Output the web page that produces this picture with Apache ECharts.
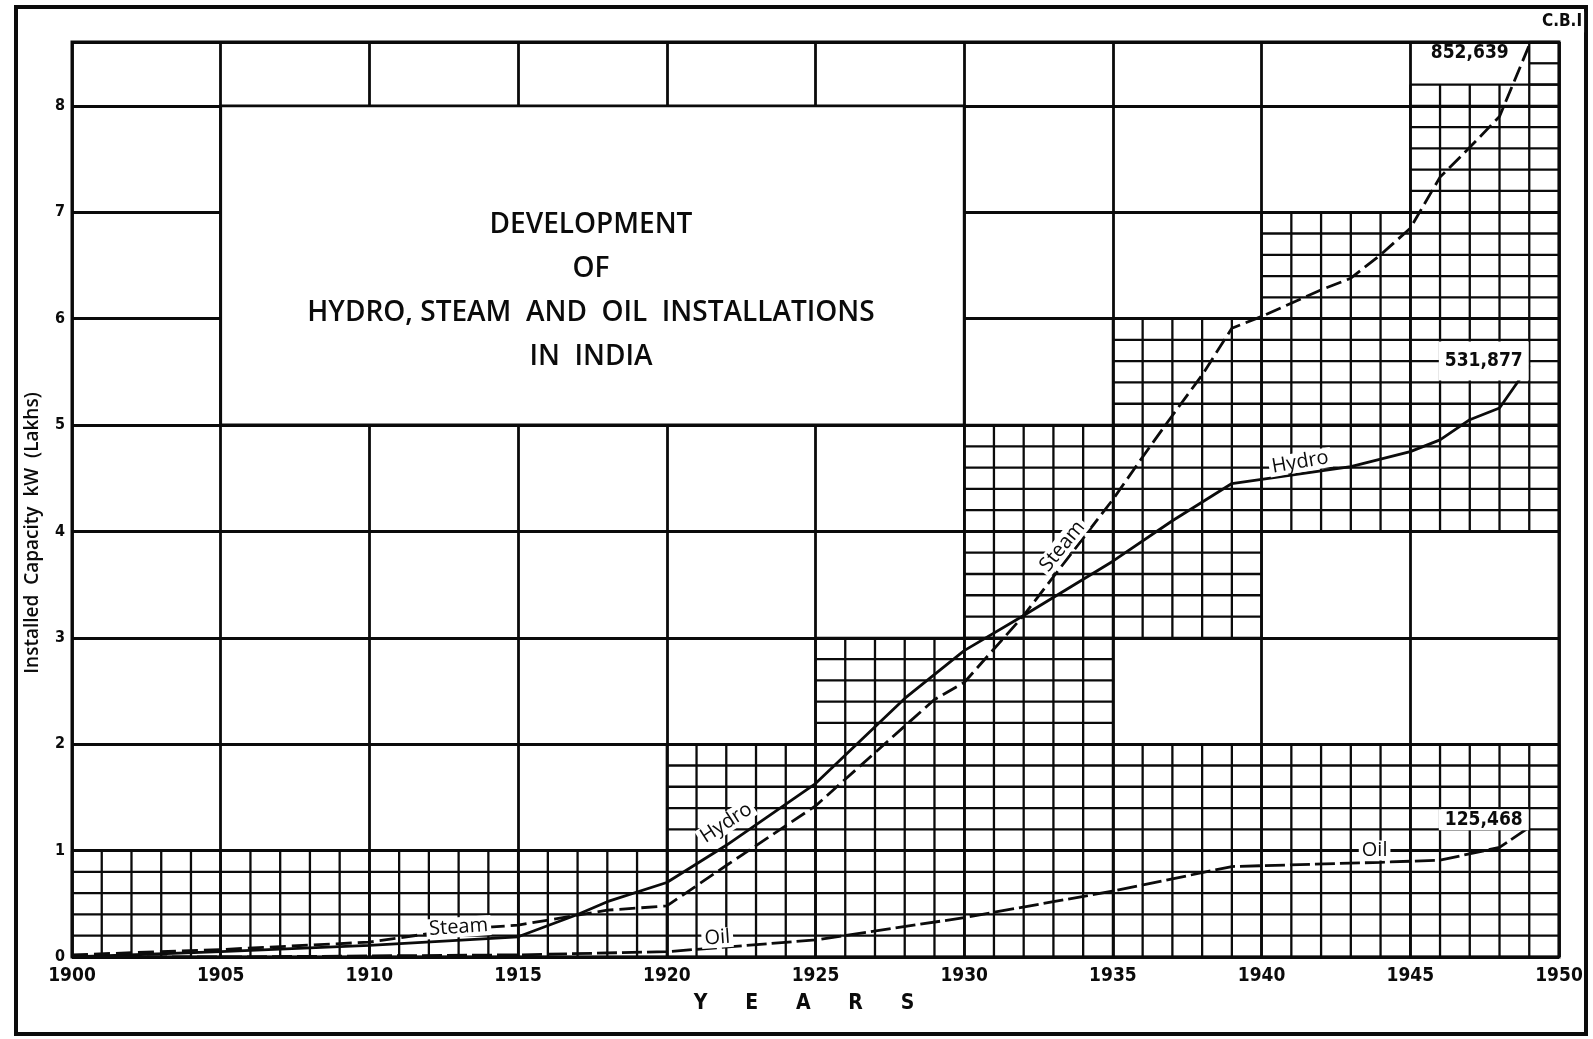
<!DOCTYPE html>
<html>
<head>
<meta charset="utf-8">
<title>Development of Hydro, Steam and Oil Installations in India</title>
<script src="https://cdn.jsdelivr.net/npm/echarts@6/dist/echarts.min.js"></script>
<style>
html, body { margin: 0; padding: 0; background: #fff; }
#main { width: 1593px; height: 1039px; }
</style>
</head>
<body>
<div id="main"></div>
<script>
// installed capacity in lakhs of kW
var hydro = [
	[1900, 0.00], [1905, 0.05], [1910, 0.11], [1915, 0.19], [1917, 0.40], [1918, 0.52],
	[1920, 0.70], [1922, 1.05], [1925, 1.63], [1928, 2.43], [1930, 2.88], [1932, 3.21],
	[1935, 3.72], [1937, 4.10], [1939, 4.45], [1941, 4.53], [1943, 4.61], [1945, 4.75],
	[1946, 4.86], [1947, 5.05], [1948, 5.16], [1949, 5.56]
];
var steam = [
	[1900, 0.02], [1905, 0.07], [1910, 0.14], [1913, 0.26], [1915, 0.30], [1918, 0.44],
	[1920, 0.48], [1922, 0.86], [1925, 1.42], [1929, 2.42], [1930, 2.58], [1932, 3.21],
	[1935, 4.30], [1936, 4.70], [1937, 5.09], [1938, 5.47], [1939, 5.91], [1940, 6.02],
	[1942, 6.27], [1943, 6.38], [1944, 6.60], [1945, 6.85], [1946, 7.33], [1947, 7.61],
	[1948, 7.90], [1949, 8.57]
];
var oil = [
	[1900, 0.00], [1905, 0.00], [1910, 0.01], [1915, 0.02], [1920, 0.05], [1925, 0.16],
	[1930, 0.37], [1935, 0.62], [1939, 0.85], [1944, 0.89], [1946, 0.91], [1948, 1.03],
	[1949, 1.22]
];
// capacity (kW) written at the end of each curve
var endNames = ['Steam', 'Hydro', 'Oil'];
var endKW = [852639, 531877, 125468];

var yearRange = [1900, 1950];
var lakhRange = [0, 8.6];

// parts of the paper ruled finely (1 year x 0.2 lakh): [fromYear, toYear, fromLakh, toLakh]
var fineBlocks = [
	[1900, 1950, 0, 1], [1920, 1950, 1, 2], [1925, 1935, 2, 3], [1930, 1940, 3, 4],
	[1930, 1950, 4, 5], [1935, 1950, 5, 6], [1940, 1950, 6, 7], [1945, 1950, 7, 8.2],
	[1949, 1950, 8.2, 8.6]
];

var INK = '#0b0b0b';
var NUMFONT = '"DejaVu Sans Condensed", "DejaVu Sans", sans-serif';
var TXTFONT = '"Open Sans", sans-serif';

function fmtKW(v)
{
	return v.toLocaleString('en-US');
}

function renderBlock(params, api)
{
	var x0 = api.value(0), x1 = api.value(1), y0 = api.value(2), y1 = api.value(3);
	var kids = [];
	var nx = Math.round(x1 - x0), ny = Math.round((y1 - y0) / 0.2);
	for (var i = 0; i <= nx; i++) {
		var a = api.coord([x0 + i, y0]), b = api.coord([x0 + i, y1]);
		kids.push({ type: 'line', shape: { x1: a[0], y1: a[1], x2: b[0], y2: b[1] },
			style: { stroke: INK, lineWidth: 2.3 } });
	}
	for (var j = 0; j <= ny; j++) {
		var v = y0 + j * 0.2;
		var c = api.coord([x0, v]), d = api.coord([x1, v]);
		kids.push({ type: 'line', shape: { x1: c[0], y1: c[1], x2: d[0], y2: d[1] },
			style: { stroke: INK, lineWidth: 2.3 } });
	}
	return { type: 'group', children: kids };
}

// white panel carrying the heading
function renderPanel(params, api)
{
	var p = api.coord([api.value(0), api.value(3)]);
	var q = api.coord([api.value(1), api.value(2)]);
	return { type: 'rect', shape: { x: p[0], y: p[1], width: q[0] - p[0], height: q[1] - p[1] },
		style: { fill: '#fff', stroke: INK, lineWidth: 2.8 } };
}

var notes = [
	{ name: 'Steam', value: [1913.0, 0.28, 4] },
	{ name: 'Oil', value: [1921.7, 0.18, 4] },
	{ name: 'Hydro', value: [1922.0, 1.26, 33] },
	{ name: 'Steam', value: [1933.3, 3.86, 51] },
	{ name: 'Hydro', value: [1941.3, 4.65, 10] },
	{ name: 'Oil', value: [1943.8, 1.00, 0] }
];

function renderNote(params, api)
{
	var p = api.coord([api.value(0), api.value(1)]);
	return { type: 'text', x: p[0], y: p[1], rotation: api.value(2) * Math.PI / 180,
		style: { text: notes[params.dataIndex].name, font: '500 20px ' + TXTFONT, fill: INK,
			align: 'center', verticalAlign: 'middle', backgroundColor: '#fff', padding: [0, 3] } };
}

// put the kW figure on the last point of a curve
function withEndLabel(points, idx, pos, boxed)
{
	var last = points.length - 1;
	return points.map(function (p, i) {
		if (i !== last) return p;
		return { value: p, label: {
			show: true, formatter: fmtKW(endKW[idx]), position: pos,
			align: 'center', verticalAlign: 'middle',
			fontFamily: NUMFONT, fontWeight: 'bold', fontSize: 19, color: INK,
			backgroundColor: boxed ? '#fff' : 'transparent', padding: boxed ? boxed : 0
		} };
	});
}

function lineSeries(name, points, dash, width, idx, pos, boxed)
{
	return {
		name: name, type: 'line', z: 4,
		data: withEndLabel(points, idx, pos, boxed),
		symbol: 'circle', symbolSize: 1, showSymbol: true,
		itemStyle: { color: INK },
		lineStyle: { color: INK, width: width, type: dash },
		smooth: false,
		silent: true
	};
}

var chart = echarts.init(document.getElementById('main'));

var option = {
	animation: false,
	backgroundColor: '#fff',
	grid: { left: 72, right: 34, top: 42, bottom: 82, show: true, borderColor: INK, borderWidth: 3 },
	xAxis: {
		type: 'value', min: yearRange[0], max: yearRange[1], interval: 5,
		axisLine: { show: false }, axisTick: { show: false },
		splitLine: { show: true, lineStyle: { color: INK, width: 2.8 } },
		axisLabel: {
			margin: 10, fontFamily: NUMFONT, fontWeight: 'bold', fontSize: 19, color: INK,
			formatter: function (v) { return String(v); }
		},
		name: 'Y\u2003\u2003E\u2003\u2003A\u2003\u2003R\u2003\u2003S',
		nameLocation: 'middle', nameGap: 36,
		nameTextStyle: { fontFamily: NUMFONT, fontWeight: 'bold', fontSize: 21, color: INK, padding: [0, 23, 0, 0] }
	},
	yAxis: {
		type: 'value', min: lakhRange[0], max: lakhRange[1], interval: 1,
		axisLine: { show: false }, axisTick: { show: false },
		splitLine: { show: true, lineStyle: { color: INK, width: 2.8 } },
		axisLabel: {
			margin: 7, fontFamily: NUMFONT, fontWeight: 'bold', fontSize: 16, color: INK,
			formatter: function (v) { return Number.isInteger(v) ? String(v) : ''; }
		}
	},
	graphic: [
		{ type: 'rect', z: 10, shape: { x: 16, y: 7, width: 1570, height: 1027 },
			style: { fill: 'none', stroke: INK, lineWidth: 4 } },
		{ type: 'text', z: 11, x: 1562, y: 22,
			style: { text: 'C.B.I', font: 'bold 17px ' + NUMFONT, fill: INK, align: 'center',
				verticalAlign: 'middle', backgroundColor: '#fff', padding: [2, 2] } },
		{ type: 'text', z: 10, x: 33, y: 533, rotation: Math.PI / 2,
			style: { text: 'Installed  Capacity  kW  (Lakhs)', font: '600 19px ' + TXTFONT,
				fill: INK, align: 'center', verticalAlign: 'middle' } },
		{ type: 'text', z: 10, x: 591, y: 203,
			style: { text: 'DEVELOPMENT\nOF\nHYDRO, STEAM  AND  OIL  INSTALLATIONS\nIN  INDIA',
				font: '600 28px ' + TXTFONT, fill: INK, align: 'center',
				verticalAlign: 'top', lineHeight: 44 } }
	],
	series: [
		{
			type: 'custom', name: 'fine ruling', z: 1, silent: true,
			renderItem: renderBlock, data: fineBlocks, encode: { x: [0, 1], y: [2, 3] }
		},
		{
			type: 'custom', name: 'heading panel', z: 2, silent: true,
			renderItem: renderPanel, data: [[1905, 1930, 5, 8]], encode: { x: [0, 1], y: [2, 3] }
		},
		lineSeries('Hydro', hydro, 'solid', 2.8, 1, [-45, -4], [10, 6]),
		lineSeries('Steam', steam, [16, 6], 2.8, 0, [-59, 8], null),
		lineSeries('Oil', oil, [20, 5], 2.8, 2, [-45, -7], [1, 6]),
		{
			type: 'custom', name: 'notes', z: 6, silent: true,
			renderItem: renderNote, data: notes, encode: { x: 0, y: 1 }
		}
	]
};

chart.setOption(option);
</script>
</body>
</html>
